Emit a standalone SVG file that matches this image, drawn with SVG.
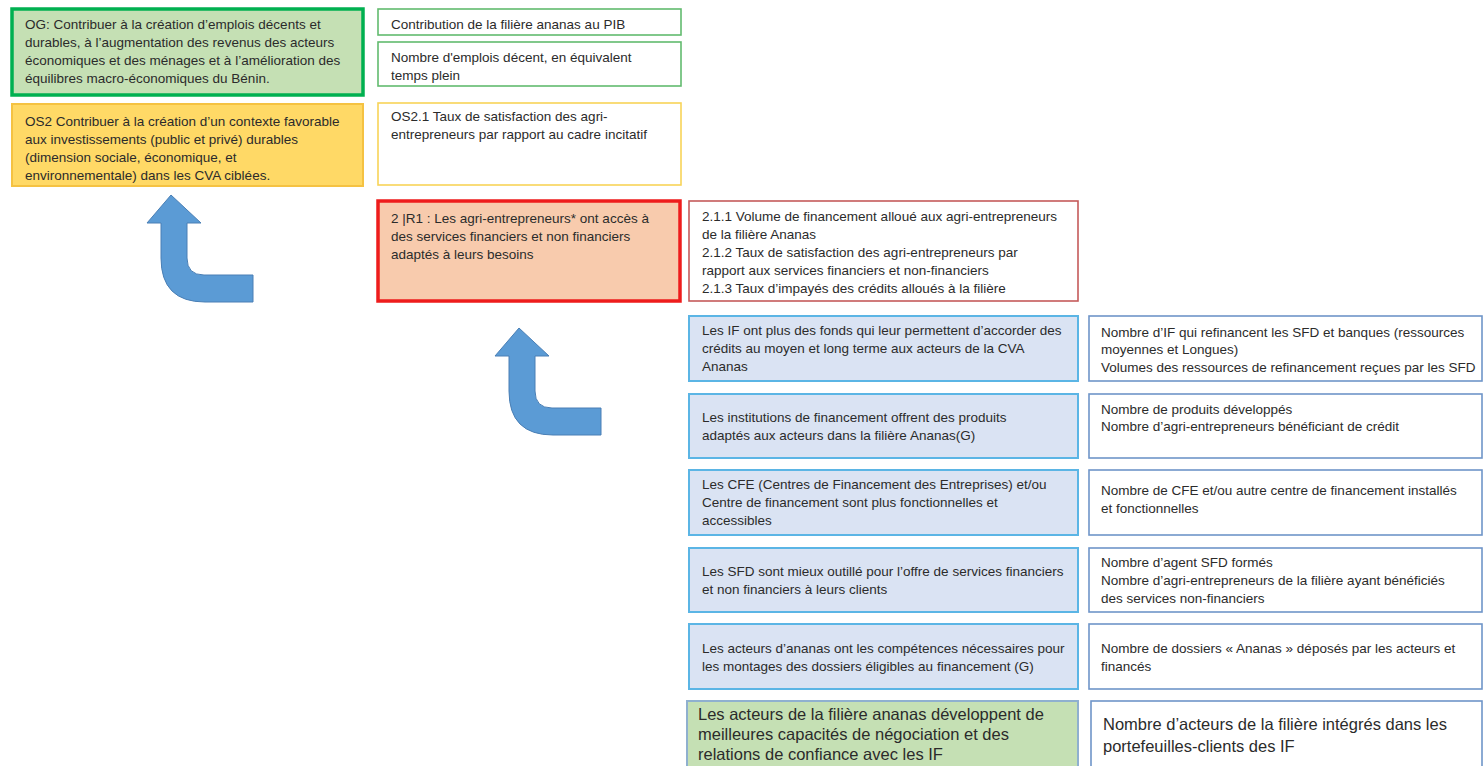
<svg xmlns="http://www.w3.org/2000/svg" width="1483" height="766" viewBox="0 0 1483 766">
<style>
text{font-family:"Liberation Sans",Arial,sans-serif;font-size:13.5px;fill:#2b2b2b}
.big{font-size:16.5px}
.og{fill:#c5e0b4;stroke:#00b050;stroke-width:3.5}
.os2{fill:#ffd966;stroke:#f5c242;stroke-width:2}
.ig{fill:#fff;stroke:#62bb6e;stroke-width:1.6}
.iy{fill:#fff;stroke:#f8d458;stroke-width:1.6}
.r1{fill:#f8cbad;stroke:#ee1c1c;stroke-width:3.5}
.ir{fill:#fff;stroke:#c55a5a;stroke-width:1.6}
.bl{fill:#dae3f3;stroke:#5bb5e5;stroke-width:2}
.ib{fill:#fff;stroke:#6f95c9;stroke-width:1.6}
.gr{fill:#c5e0b4;stroke:#8fb0cf;stroke-width:2}
.arr{fill:#5b9bd5;stroke:#4a7fb5;stroke-width:1}
</style>
<defs>
<path id="bentArrow" d="M171,195 L201,223 L187,223 L187,258 Q187,275 204,275 L253,275 L253,302 L205,302 Q161,302 161,258 L161,223 L147,223 Z"/>
</defs>
<rect width="1483" height="766" fill="#fff"/>

<g id="og">
<rect class="og" x="12" y="9" width="351" height="86"/>
<text x="25" y="29">OG: Contribuer à la création d’emplois décents et</text>
<text x="25" y="47">durables, à l’augmentation des revenus des acteurs</text>
<text x="25" y="65">économiques et des ménages et à l’amélioration des</text>
<text x="25" y="83">équilibres macro-économiques du Bénin.</text>
</g>
<g id="os2">
<rect class="os2" x="12" y="104" width="351" height="82"/>
<text x="25" y="126">OS2 Contribuer à la création d’un contexte favorable</text>
<text x="25" y="144">aux investissements (public et privé) durables</text>
<text x="25" y="162">(dimension sociale, économique, et</text>
<text x="25" y="180">environnementale) dans les CVA ciblées.</text>
</g>
<g id="ind-pib">
<rect class="ig" x="378" y="9" width="303" height="26"/>
<text x="391" y="29">Contribution de la filière ananas au PIB</text>
</g>
<g id="ind-emplois">
<rect class="ig" x="378" y="42" width="303" height="44"/>
<text x="391" y="62">Nombre d'emplois décent, en équivalent</text>
<text x="391" y="80">temps plein</text>
</g>
<g id="ind-os21">
<rect class="iy" x="378" y="103" width="303" height="82"/>
<text x="391" y="121">OS2.1 Taux de satisfaction des agri-</text>
<text x="391" y="139">entrepreneurs par rapport au cadre incitatif</text>
</g>
<g id="r1">
<rect class="r1" x="378" y="201" width="302" height="100"/>
<text x="391" y="223">2 |R1 : Les agri-entrepreneurs* ont accès à</text>
<text x="391" y="241">des services financiers et non financiers</text>
<text x="391" y="259">adaptés à leurs besoins</text>
</g>
<g id="ind-r1">
<rect class="ir" x="689" y="201" width="389" height="100"/>
<text x="702" y="221">2.1.1 Volume de financement alloué aux agri-entrepreneurs</text>
<text x="702" y="239">de la filière Ananas</text>
<text x="702" y="257">2.1.2 Taux de satisfaction des agri-entrepreneurs par</text>
<text x="702" y="275">rapport aux services financiers et non-financiers</text>
<text x="702" y="293">2.1.3 Taux d’impayés des crédits alloués à la filière</text>
</g>

<g id="p1">
<rect class="bl" x="689" y="316" width="389" height="65"/>
<text x="702" y="335">Les IF ont plus des fonds qui leur permettent  d’accorder des</text>
<text x="702" y="353">crédits au moyen et long terme aux acteurs de la CVA</text>
<text x="702" y="371">Ananas</text>
</g>
<g id="i1">
<rect class="ib" x="1089" y="316" width="393" height="65"/>
<text x="1101" y="337">Nombre d’IF qui refinancent les SFD et banques (ressources</text>
<text x="1101" y="354">moyennes et Longues)</text>
<text x="1101" y="372">Volumes des ressources de refinancement reçues par les SFD</text>
</g>
<g id="p2">
<rect class="bl" x="689" y="394" width="389" height="64"/>
<text x="702" y="422">Les institutions de financement offrent des produits</text>
<text x="702" y="440">adaptés aux acteurs dans la filière  Ananas(G)</text>
</g>
<g id="i2">
<rect class="ib" x="1089" y="394" width="393" height="64"/>
<text x="1101" y="414">Nombre de produits développés</text>
<text x="1101" y="431">Nombre d’agri-entrepreneurs bénéficiant de crédit</text>
</g>
<g id="p3">
<rect class="bl" x="689" y="470" width="389" height="65"/>
<text x="702" y="489">Les CFE (Centres de Financement des Entreprises) et/ou</text>
<text x="702" y="507">Centre de financement sont plus fonctionnelles et</text>
<text x="702" y="525">accessibles</text>
</g>
<g id="i3">
<rect class="ib" x="1089" y="470" width="393" height="65"/>
<text x="1101" y="495">Nombre de CFE et/ou autre centre de financement installés</text>
<text x="1101" y="513">et fonctionnelles</text>
</g>
<g id="p4">
<rect class="bl" x="689" y="548" width="389" height="64"/>
<text x="702" y="576">Les SFD sont mieux outillé  pour l’offre de services financiers</text>
<text x="702" y="594">et non financiers à leurs clients</text>
</g>
<g id="i4">
<rect class="ib" x="1089" y="548" width="393" height="64"/>
<text x="1101" y="567">Nombre d’agent SFD formés</text>
<text x="1101" y="585">Nombre d’agri-entrepreneurs de la filière  ayant bénéficiés</text>
<text x="1101" y="603">des services non-financiers</text>
</g>
<g id="p5">
<rect class="bl" x="689" y="624" width="389" height="65"/>
<text x="702" y="653">Les acteurs d’ananas ont les compétences nécessaires pour</text>
<text x="702" y="671">les montages des dossiers éligibles au financement (G)</text>
</g>
<g id="i5">
<rect class="ib" x="1089" y="624" width="393" height="65"/>
<text x="1101" y="653">Nombre de dossiers « Ananas » déposés par les acteurs et</text>
<text x="1101" y="671">financés</text>
</g>
<g id="p6">
<rect class="gr" x="687" y="701" width="391" height="70"/>
<text class="big" x="698" y="720">Les acteurs de la filière ananas développent de</text>
<text class="big" x="698" y="740">meilleures capacités de négociation et des</text>
<text class="big" x="698" y="760">relations de confiance avec les IF</text>
</g>
<g id="i6">
<rect class="ib" x="1091" y="701" width="391" height="70"/>
<text class="big" x="1103" y="730">Nombre d’acteurs de la filière intégrés dans les</text>
<text class="big" x="1103" y="752">portefeuilles-clients des IF</text>
</g>

<g id="connectors">
<use href="#bentArrow" class="arr"/>
<use href="#bentArrow" class="arr" transform="translate(348,133)"/>
</g>
</svg>
